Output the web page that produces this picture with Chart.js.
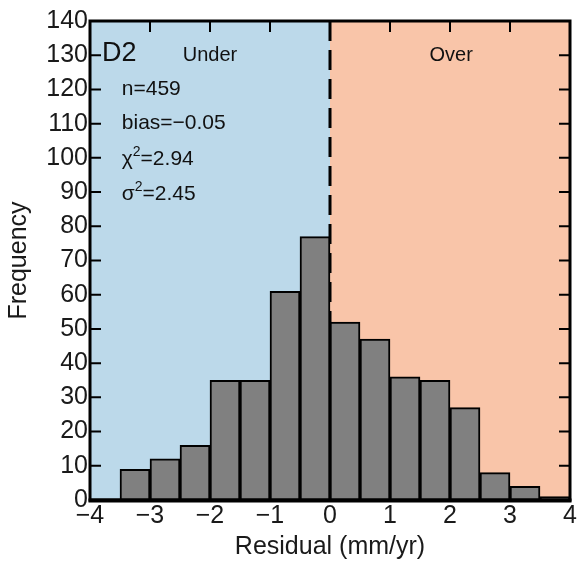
<!DOCTYPE html>
<html>
<head>
<meta charset="utf-8">
<script src="https://cdn.jsdelivr.net/npm/chart.js@4.4.0/dist/chart.umd.min.js"></script>
<style>
  html, body { margin: 0; padding: 0; background: #fff; }
  #wrap { width: 578px; height: 564px; position: relative; }
</style>
</head>
<body>
<div id="wrap"><canvas id="c" width="578" height="564"></canvas></div>
<script>
// ---- data ----
const binCenters = [-3.25, -2.75, -2.25, -1.75, -1.25, -0.75, -0.25, 0.25, 0.75, 1.25, 1.75, 2.25, 2.75, 3.25, 3.75];
const counts     = [9, 12, 16, 35, 35, 61, 77, 52, 47, 36, 35, 27, 8, 4, 1];
const xTicks = [-4, -3, -2, -1, 0, 1, 2, 3, 4];
const yTicks = [0, 10, 20, 30, 40, 50, 60, 70, 80, 90, 100, 110, 120, 130, 140];
const panelLabel = "D2";
const regionLabels = ["Under", "Over"];
const statN = "n=459";
const statBias = "bias=\u22120.05";
const statChi = ["\u03c7", "2", "=2.94"];
const statSigma = ["\u03c3", "2", "=2.45"];

const FONT = "'Liberation Sans', Arial, sans-serif";
const BLUE = "#bcd9ea";
const PEACH = "#f9c5a9";

const decor = {
  id: 'decor',
  beforeDatasetsDraw(chart) {
    const {ctx, chartArea: a, scales: {x, y}} = chart;
    ctx.save();
    const x0 = x.getPixelForValue(0);
    ctx.fillStyle = BLUE;
    ctx.fillRect(a.left, a.top, x0 - a.left, a.bottom - a.top);
    ctx.fillStyle = PEACH;
    ctx.fillRect(x0, a.top, a.right - x0, a.bottom - a.top);
    // dashed zero line
    ctx.strokeStyle = '#000';
    ctx.lineWidth = 3;
    ctx.setLineDash([20, 9]);
    ctx.beginPath();
    ctx.moveTo(x0, a.top);
    ctx.lineTo(x0, a.bottom);
    ctx.stroke();
    ctx.setLineDash([]);
    // texts
    ctx.fillStyle = '#111';
    ctx.textBaseline = 'middle';
    ctx.textAlign = 'left';
    ctx.font = "27px " + FONT;
    ctx.fillText(panelLabel, x.getPixelForValue(-3.8), y.getPixelForValue(130.5));
    ctx.font = "20px " + FONT;
    ctx.textAlign = 'center';
    ctx.fillText(regionLabels[0], x.getPixelForValue(-2.0), y.getPixelForValue(130));
    ctx.fillText(regionLabels[1], x.getPixelForValue(2.02), y.getPixelForValue(130));
    ctx.textAlign = 'left';
    const sx = x.getPixelForValue(-3.47);
    ctx.font = "21px " + FONT;
    ctx.fillText(statN, sx, y.getPixelForValue(120));
    ctx.fillText(statBias, sx, y.getPixelForValue(110));
    const drawSup = (parts, val) => {
      const py = y.getPixelForValue(val);
      let px = sx;
      ctx.font = "21px " + FONT;
      ctx.fillText(parts[0], px, py);
      px += ctx.measureText(parts[0]).width;
      ctx.font = "14px " + FONT;
      ctx.fillText(parts[1], px, py - 7);
      px += ctx.measureText(parts[1]).width;
      ctx.font = "21px " + FONT;
      ctx.fillText(parts[2], px, py);
    };
    drawSup(statChi, 99.5);
    drawSup(statSigma, 89.5);
    ctx.restore();
  },
  afterDatasetsDraw(chart) {
    const {ctx, chartArea: a, scales: {x, y}} = chart;
    ctx.save();
    ctx.strokeStyle = '#000';
    // inward ticks (left, right, top)
    ctx.lineWidth = 2;
    ctx.beginPath();
    yTicks.forEach(v => {
      const py = y.getPixelForValue(v);
      ctx.moveTo(a.left, py); ctx.lineTo(a.left + 11, py);
      ctx.moveTo(a.right, py); ctx.lineTo(a.right - 11, py);
    });
    xTicks.forEach(v => {
      const px = x.getPixelForValue(v);
      ctx.moveTo(px, a.top); ctx.lineTo(px, a.top + 11);
    });
    ctx.stroke();
    ctx.lineWidth = 3;
    ctx.strokeRect(a.left, a.top, a.right - a.left, a.bottom - a.top);
    ctx.lineWidth = 4;
    ctx.beginPath();
    ctx.moveTo(a.left - 1.5, a.bottom + 0.5);
    ctx.lineTo(a.right + 1.5, a.bottom + 0.5);
    ctx.stroke();
    ctx.restore();
  }
};

new Chart(document.getElementById('c'), {
  type: 'bar',
  data: {
    datasets: [{
      data: binCenters.map((c, i) => ({x: c, y: counts[i]})),
      backgroundColor: '#808080',
      borderColor: '#000',
      borderWidth: 2,
      barPercentage: 1,
      categoryPercentage: 1
    }]
  },
  options: {
    responsive: false,
    animation: false,
    devicePixelRatio: 1,
    layout: { padding: { top: 21, right: 8, left: 0, bottom: 0 } },
    plugins: { legend: { display: false }, tooltip: { enabled: false } },
    scales: {
      x: {
        type: 'linear',
        offset: false,
        min: -4, max: 4,
        grid: { display: false, drawTicks: false, offset: false },
        border: { display: false },
        afterBuildTicks: s => { s.ticks = xTicks.map(v => ({value: v})); },
        afterFit: s => { s.height = 64; },
        ticks: {
          color: '#1a1a1a',
          padding: 1,
          maxRotation: 0,
          font: { family: FONT, size: 25 },
          callback: v => (v < 0 ? '\u2212' + Math.abs(v) : '' + v)
        },
        title: {
          display: true,
          text: 'Residual (mm/yr)',
          color: '#1a1a1a',
          padding: { top: 0, bottom: 2 },
          font: { family: FONT, size: 25 }
        }
      },
      y: {
        min: 0, max: 140,
        grid: { display: false, drawTicks: false },
        border: { display: false },
        afterBuildTicks: s => { s.ticks = yTicks.map(v => ({value: v})); },
        afterFit: s => { s.width = 90; },
        ticks: {
          color: '#1a1a1a',
          padding: 2,
          font: { family: FONT, size: 25 }
        },
        title: {
          display: true,
          text: 'Frequency',
          color: '#1a1a1a',
          padding: { top: 4, bottom: 0 },
          font: { family: FONT, size: 25 }
        }
      }
    }
  },
  plugins: [decor]
});
</script>
</body>
</html>
